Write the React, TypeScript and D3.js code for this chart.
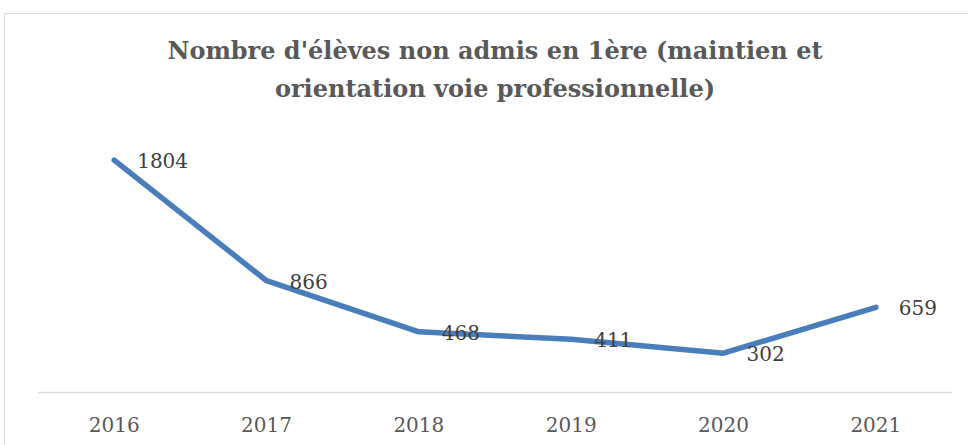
import React from "react";
import * as d3 from "d3";

const years = ["2016", "2017", "2018", "2019", "2020", "2021"];
const values = [1804, 866, 468, 411, 302, 659];
const titleLines = [
  "Nombre d'élèves non admis en 1ère (maintien et",
  "orientation voie professionnelle)",
];

const W = 968;
const H = 445;

export default function App() {
  const x = d3.scaleBand<string>().domain(years).range([38, 952]);
  const y = d3.scaleLinear().domain([0, 2000]).range([392, 135]);
  const pts = years.map((yr, i) => ({ yr, v: values[i] }));
  const line = d3
    .line<{ yr: string; v: number }>()
    .x((d) => (x(d.yr) as number) + x.bandwidth() / 2)
    .y((d) => y(d.v));
  const serif = "'DejaVu Serif', serif";
  return (
    <svg
      width={W}
      height={H}
      style={{ position: "absolute", left: 0, top: 0, background: "#fff" }}
    >
      <rect x={4.5} y={13.5} width={1000} height={500} fill="#fff" stroke="#d9d9d9" strokeWidth={1} />
      {titleLines.map((t, i) => (
        <text
          key={i}
          x={495}
          y={59 + i * 38}
          textAnchor="middle"
          fontFamily={serif}
          fontWeight="bold"
          fontSize={24}
          fill="#595959"
        >
          {t}
        </text>
      ))}
      <line x1={38} x2={952} y1={392.5} y2={392.5} stroke="#d9d9d9" strokeWidth={1.5} />
      {years.map((yr) => (
        <text
          key={yr}
          x={(x(yr) as number) + x.bandwidth() / 2}
          y={432}
          textAnchor="middle"
          fontFamily={serif}
          fontSize={20}
          fill="#595959"
        >
          {yr}
        </text>
      ))}
      <path
        d={line(pts) || ""}
        fill="none"
        stroke="#4a7ebb"
        strokeWidth={5.5}
        strokeLinecap="round"
        strokeLinejoin="round"
      />
      {pts.map((p) => (
        <text
          key={p.yr}
          x={(x(p.yr) as number) + x.bandwidth() / 2 + 23}
          y={y(p.v) + 8}
          fontFamily={serif}
          fontSize={20}
          fill="#404040"
        >
          {p.v}
        </text>
      ))}
    </svg>
  );
}
